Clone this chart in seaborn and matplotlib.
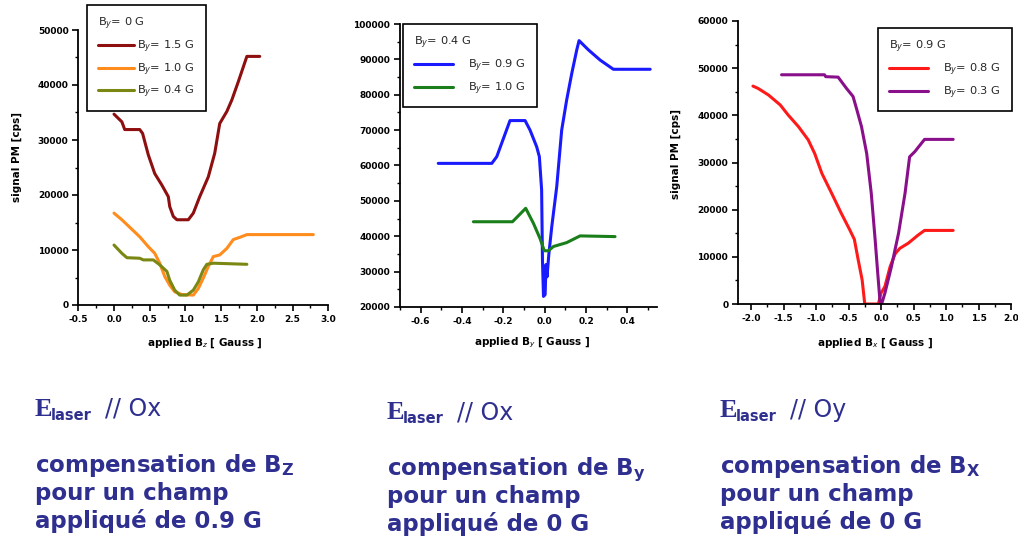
import numpy as np
import pandas as pd
import matplotlib
matplotlib.use("Agg")
import matplotlib.pyplot as plt
from matplotlib.ticker import MultipleLocator, FormatStrFormatter
import seaborn as sns

# ---------------- data ----------------
# Panel 1 : applied Bz
p1_x_15 = [0.0, 0.11, 0.15, 0.36, 0.40, 0.48, 0.57, 0.67, 0.76, 0.78, 0.83, 0.88, 1.04, 1.11,
           1.20, 1.32, 1.41, 1.48, 1.58, 1.65, 1.74, 1.86, 2.04]
p1_y_15 = [34700, 33300, 31900, 31900, 31200, 27300, 23900, 21800, 19700, 17900, 16100, 15500,
           15500, 16700, 19700, 23300, 27600, 33000, 35200, 37300, 40600, 45200, 45200]
p1_x_10 = [0.0, 0.11, 0.36, 0.48, 0.57, 0.64, 0.71, 0.78, 0.85, 0.95, 1.11, 1.18, 1.25, 1.32,
           1.39, 1.48, 1.58, 1.67, 1.76, 1.86, 2.79]
p1_y_10 = [16700, 15500, 12400, 10600, 9400, 7600, 5200, 3600, 2400, 1900, 1800, 3000, 4900,
           7000, 8800, 9100, 10300, 11900, 12300, 12800, 12800]
p1_x_04 = [0.0, 0.11, 0.18, 0.36, 0.41, 0.55, 0.64, 0.74, 0.78, 0.85, 0.92, 1.02, 1.11, 1.18,
           1.25, 1.30, 1.39, 1.86]
p1_y_04 = [10900, 9400, 8600, 8500, 8200, 8200, 7300, 6100, 4500, 2700, 1800, 1800, 2700, 4200,
           6400, 7400, 7600, 7400]

# Panel 2 : applied By
p2_x_09 = [-0.515, -0.256, -0.232, -0.168, -0.095, -0.071, -0.039, -0.026, -0.015, -0.011,
           -0.006, 0.002, 0.006, 0.011, 0.020, 0.034, 0.058, 0.082, 0.106, 0.131, 0.155, 0.166,
           0.211, 0.268, 0.332, 0.51]
p2_y_09 = [60600, 60600, 62500, 72700, 72700, 70000, 65300, 62500, 53100, 33300, 23000, 23500,
           32000, 28500, 35000, 42700, 54000, 70000, 78500, 86100, 92700, 95300, 92700, 89800,
           87200, 87200]
p2_x_10 = [-0.345, -0.156, -0.092, -0.055, -0.023, -0.002, 0.018, 0.042, 0.106, 0.171, 0.34]
p2_y_10 = [44100, 44100, 47900, 43700, 39400, 35900, 35900, 37100, 38200, 40100, 39900]

# Panel 3 : applied Bx
p3_x_08 = [-1.97, -1.89, -1.73, -1.55, -1.43, -1.27, -1.12, -1.02, -0.91, -0.76, -0.61, -0.48,
           -0.41, -0.35, -0.29, -0.25, -0.04, 0.0, 0.06, 0.14, 0.22, 0.29, 0.42, 0.57, 0.67, 1.11]
p3_y_08 = [46200, 45700, 44300, 42200, 40100, 37600, 34800, 31900, 27700, 23500, 19200, 15700,
           13700, 9300, 5100, 0, 0, 2300, 3700, 7900, 10700, 11800, 12900, 14600, 15600, 15600]
p3_x_03 = [-1.53, -0.87, -0.85, -0.66, -0.53, -0.43, -0.37, -0.30, -0.22, -0.15, -0.09, -0.05,
           -0.015, 0.01, 0.06, 0.16, 0.27, 0.37, 0.44, 0.52, 0.67, 1.11]
p3_y_03 = [48600, 48600, 48200, 48100, 45700, 44000, 41100, 37600, 31900, 23500, 13600, 6500,
           500, 0, 2300, 7900, 15000, 23500, 31200, 32300, 34900, 34900]

p1_labels = ["B$_y$= 1.5 G", "B$_y$= 1.0 G", "B$_y$= 0.4 G"]
p2_labels = ["B$_y$= 0.9 G", "B$_y$= 1.0 G"]
p3_labels = ["B$_y$= 0.8 G", "B$_y$= 0.3 G"]
legend_titles = ["B$_y$= 0 G", "B$_y$= 0.4 G", "B$_y$= 0.9 G"]
xlabels = ["applied B$_z$ [ Gauss ]", "applied B$_y$ [ Gauss ]", "applied B$_x$ [ Gauss ]"]
ylabel = "signal PM [cps]"

# ---------------- style ----------------
sns.set_style("ticks")
plt.rcParams['font.family'] = ['DejaVu Sans']
plt.rcParams['mathtext.fontset'] = 'dejavusans'

W, H = 1018, 543
fig = plt.figure(figsize=(W / 100, H / 100), dpi=100)
fig.patch.set_facecolor("white")

def fx(x):
    return x / W

def fy(y):
    return 1 - y / H

def make_axes(left, right, top, bottom):
    return fig.add_axes([fx(left), fy(bottom), (right - left) / W, (bottom - top) / H])

def series_df(xs, ys, names):
    frames = []
    for x, y, n in zip(xs, ys, names):
        frames.append(pd.DataFrame({"B": x, "signal": y, "series": n}))
    return pd.concat(frames, ignore_index=True)

def style_axes(ax, xmaj, xmin, ymaj, ymin, xfmt):
    sns.despine(ax=ax)
    ax.set_facecolor("white")
    for s in ("left", "bottom"):
        ax.spines[s].set_color("black")
        ax.spines[s].set_linewidth(1.3)
    ax.xaxis.set_major_locator(MultipleLocator(xmaj))
    ax.xaxis.set_minor_locator(MultipleLocator(xmin))
    ax.yaxis.set_major_locator(MultipleLocator(ymaj))
    ax.yaxis.set_minor_locator(MultipleLocator(ymin))
    ax.xaxis.set_major_formatter(FormatStrFormatter(xfmt))
    ax.yaxis.set_major_formatter(FormatStrFormatter("%d"))
    ax.tick_params(which="major", direction="out", length=4, width=1.2, colors="black",
                   labelsize=6.5, pad=3)
    ax.tick_params(which="minor", direction="out", length=2.5, width=1.0, colors="black")
    for lab in ax.get_xticklabels() + ax.get_yticklabels():
        lab.set_fontweight("bold")
    ax.set_xlabel("")
    ax.set_ylabel("")

def add_legend(ax, n, labels, title, x0, y0, hl, htp):
    leg = ax.legend(handles=ax.lines[:n], labels=labels, title=title, loc="upper left",
                    bbox_to_anchor=(fx(x0), fy(y0)), bbox_transform=fig.transFigure,
                    borderaxespad=0, frameon=True, fancybox=False, framealpha=1,
                    edgecolor="black", fontsize=8.2, title_fontsize=8.2,
                    handlelength=hl, handletextpad=htp, labelspacing=0.55,
                    borderpad=0.95, alignment="left")
    leg.get_frame().set_linewidth(1.2)
    return leg

LW = 2.2

# Panel 1
ax1 = make_axes(78.3, 328.3, 30, 305)
df1 = series_df([p1_x_15, p1_x_10, p1_x_04], [p1_y_15, p1_y_10, p1_y_04], p1_labels)
sns.lineplot(data=df1, x="B", y="signal", hue="series", hue_order=p1_labels,
             palette=["#8E0F0F", "#FF8C1C", "#7A8712"], sort=False, estimator=None,
             linewidth=LW, legend=False, ax=ax1)
ax1.set_xlim(-0.5, 3.0)
ax1.set_ylim(0, 50000)
style_axes(ax1, 0.5, 0.25, 10000, 5000, "%.1f")
add_legend(ax1, 3, p1_labels, legend_titles[0], 87, 5, 3.2, 0.25)

# Panel 2
ax2 = make_axes(400, 657, 24, 307)
df2 = series_df([p2_x_09, p2_x_10], [p2_y_09, p2_y_10], p2_labels)
sns.lineplot(data=df2, x="B", y="signal", hue="series", hue_order=p2_labels,
             palette=["#1A1AFF", "#1A7F1A"], sort=False, estimator=None,
             linewidth=LW, legend=False, ax=ax2)
ax2.set_xlim(-0.7, 0.543)
ax2.set_ylim(20000, 100000)
style_axes(ax2, 0.2, 0.1, 10000, 5000, "%.1f")
add_legend(ax2, 2, p2_labels, legend_titles[1], 403, 24, 3.4, 1.4)

# Panel 3
ax3 = make_axes(738, 1011, 21, 304)
df3 = series_df([p3_x_08, p3_x_03], [p3_y_08, p3_y_03], p3_labels)
sns.lineplot(data=df3, x="B", y="signal", hue="series", hue_order=p3_labels,
             palette=["#FF1A1A", "#8A0F8A"], sort=False, estimator=None,
             linewidth=LW, legend=False, ax=ax3)
ax3.set_xlim(-2.2, 2.0)
ax3.set_ylim(0, 60000)
style_axes(ax3, 0.5, 0.25, 10000, 5000, "%.1f")
add_legend(ax3, 2, p3_labels, legend_titles[2], 878, 28, 3.4, 1.4)

# axis labels
lab_kw = dict(fontsize=7.5, fontweight="bold", color="black")
fig.text(fx(205), fy(343), xlabels[0], ha="center", va="center", **lab_kw)
fig.text(fx(532), fy(343), xlabels[1], ha="center", va="center", **lab_kw)
fig.text(fx(875), fy(343), xlabels[2], ha="center", va="center", **lab_kw)
fig.text(fx(17), fy(157), ylabel, rotation=90, ha="center", va="center", **lab_kw)
fig.text(fx(676), fy(154), ylabel, rotation=90, ha="center", va="center", **lab_kw)

# bottom annotations
BLUE = "#2E2F8F"
cols = [(35, "Ox", "compensation de B$_\\mathbf{Z}$", "appliqué de 0.9 G", 0),
        (387, "Ox", "compensation de B$_\\mathbf{y}$", "appliqué de 0 G", 3),
        (720, "Oy", "compensation de B$_\\mathbf{X}$", "appliqué de 0 G", 1)]
for x0, axis_name, l1, l3, dy in cols:
    fig.text(fx(x0), fy(416 + dy), "E", family="Liberation Serif", fontsize=19,
             fontweight="bold", color=BLUE, va="baseline", ha="left")
    fig.text(fx(x0 + 16), fy(420 + dy), "laser", fontsize=10.5, fontweight="bold",
             color=BLUE, va="baseline", ha="left")
    fig.text(fx(x0 + 70), fy(416 + dy), "// " + axis_name, fontsize=17,
             color=BLUE, va="baseline", ha="left")
    fig.text(fx(x0), fy(472 + dy), l1, fontsize=16.5, fontweight="bold", color=BLUE,
             va="baseline", ha="left")
    fig.text(fx(x0), fy(500 + dy), "pour un champ", fontsize=16.5, fontweight="bold",
             color=BLUE, va="baseline", ha="left")
    fig.text(fx(x0), fy(528 + dy), l3, fontsize=16.5, fontweight="bold", color=BLUE,
             va="baseline", ha="left")

fig.savefig("out.png", dpi=100, facecolor="white")
